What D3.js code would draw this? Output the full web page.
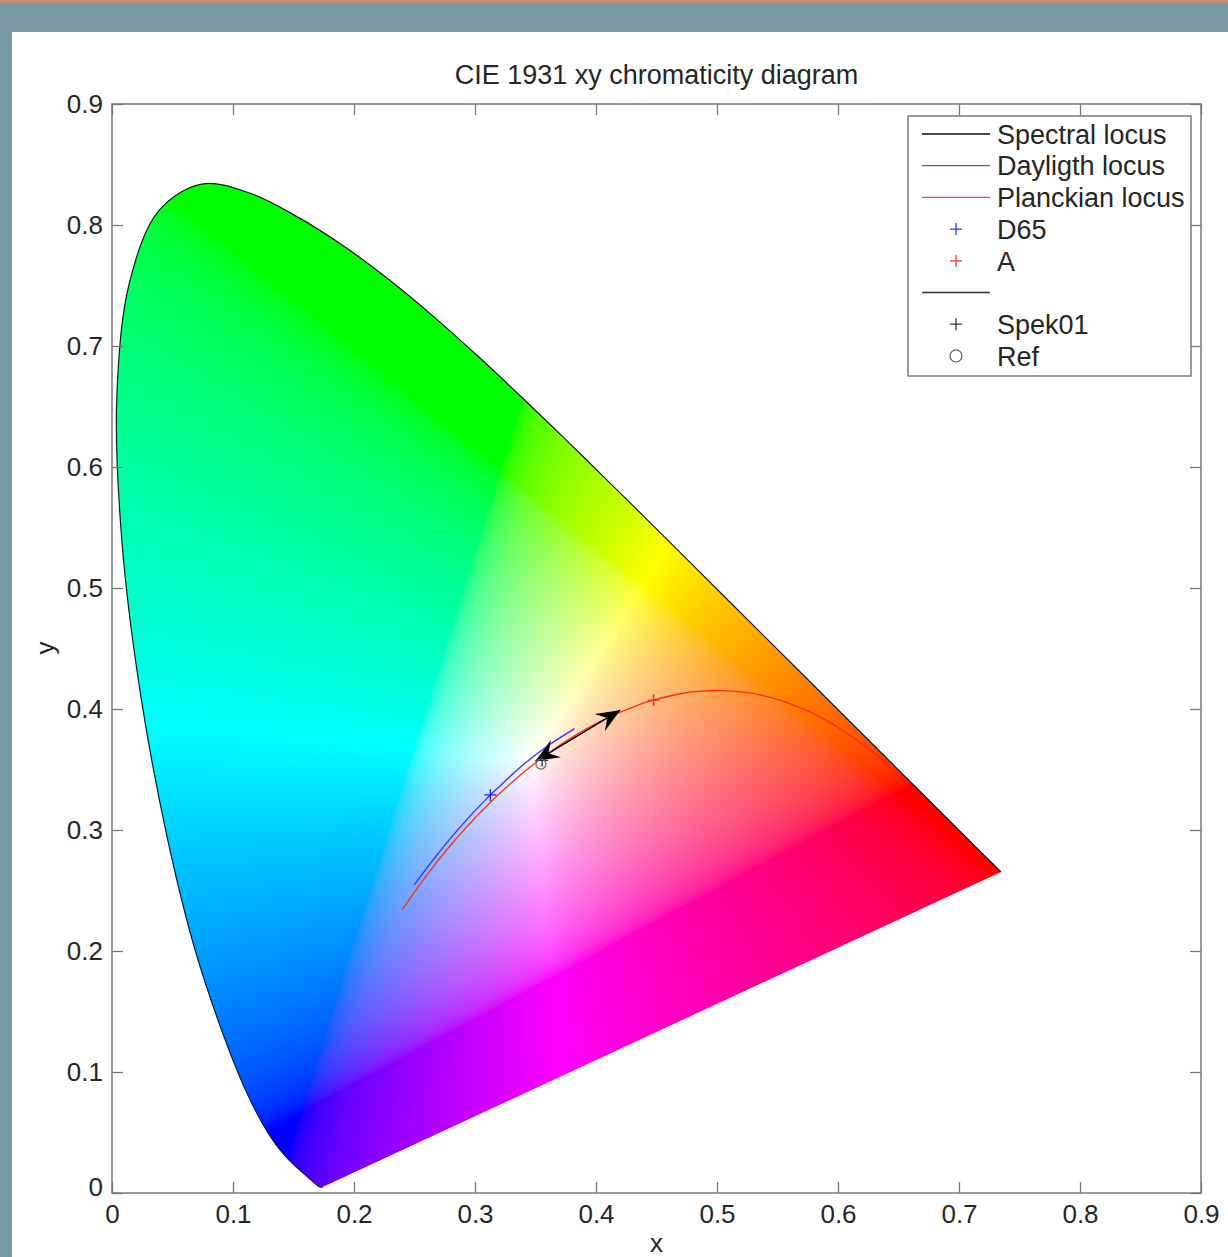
<!DOCTYPE html>
<html>
<head>
<meta charset="utf-8">
<script src="https://cdn.jsdelivr.net/npm/d3@7"></script>
<style>
  body { margin: 0; background: #7b99a5; }
  text { font-family: "Liberation Sans", Arial, sans-serif; fill: #262626; }
</style>
</head>
<body>
<div id="chart"></div>
<script>
// CIE 1931 2 degree spectral locus (x, y), 380-700 nm every 5 nm
var wavelengths = [380,385,390,395,400,405,410,415,420,425,430,435,440,445,450,455,460,465,470,475,
  480,485,490,495,500,505,510,515,520,525,530,535,540,545,550,555,560,565,570,575,580,585,590,595,
  600,605,610,615,620,625,630,635,640,645,650,655,660,665,670,675,680,685,690,695,700];
var locusX = [0.1741,0.1740,0.1738,0.1736,0.1733,0.1730,0.1726,0.1721,0.1714,0.1703,0.1689,0.1669,0.1644,0.1611,0.1566,0.1510,0.1440,0.1355,0.1241,0.1096,
  0.0913,0.0687,0.0454,0.0235,0.0082,0.0039,0.0139,0.0389,0.0743,0.1142,0.1547,0.1929,0.2296,0.2658,0.3016,0.3373,0.3731,0.4087,0.4441,0.4788,0.5125,0.5448,0.5752,0.6029,
  0.6270,0.6482,0.6658,0.6801,0.6915,0.7006,0.7079,0.7140,0.7190,0.7230,0.7260,0.7283,0.7300,0.7311,0.7320,0.7327,0.7334,0.7340,0.7344,0.7346,0.7347];
var locusY = [0.0050,0.0050,0.0049,0.0049,0.0048,0.0048,0.0048,0.0048,0.0051,0.0058,0.0069,0.0086,0.0109,0.0138,0.0177,0.0227,0.0297,0.0399,0.0578,0.0868,
  0.1327,0.2007,0.2950,0.4127,0.5384,0.6548,0.7502,0.8120,0.8338,0.8262,0.8059,0.7816,0.7543,0.7243,0.6923,0.6589,0.6245,0.5896,0.5547,0.5202,0.4866,0.4544,0.4242,0.3965,
  0.3725,0.3514,0.3340,0.3197,0.3083,0.2993,0.2920,0.2859,0.2809,0.2770,0.2740,0.2717,0.2700,0.2689,0.2680,0.2673,0.2666,0.2660,0.2656,0.2654,0.2653];

// Daylight locus, 4000 K to 25000 K
var daylightX = [0.3823,0.3621,0.3457,0.3325,0.3222,0.3127,0.3063,0.2991,0.2938,0.2788,0.2697,0.2614,0.2539,0.2499];
var daylightY = [0.3838,0.3709,0.3587,0.3476,0.3378,0.3291,0.3224,0.3150,0.3092,0.2920,0.2808,0.2702,0.2603,0.2548];

// Planckian locus, 1000 K to infinity
var planckX = [0.6528,0.6251,0.5985,0.5857,0.5732,0.5492,0.5267,0.5056,0.4862,0.4685,0.4476,0.4369,0.4053,0.3805,0.3608,
  0.3451,0.3325,0.3221,0.3135,0.3064,0.2952,0.2869,0.2807,0.2720,0.2637,0.2565,0.2501,0.2451,0.2416,0.2399];
var planckY = [0.3444,0.3674,0.3858,0.3931,0.3993,0.4082,0.4133,0.4152,0.4147,0.4124,0.4074,0.4041,0.3907,0.3768,0.3636,
  0.3516,0.3411,0.3318,0.3236,0.3165,0.3048,0.2956,0.2884,0.2779,0.2673,0.2577,0.2489,0.2418,0.2367,0.2342];

// illuminants and measured points
var illumNames = ["D65", "A"];
var illumX = [0.3127, 0.4476];
var illumY = [0.3290, 0.4074];
var spekX = [0.3555], spekY = [0.3575];
var refX = [0.3545], refY = [0.3545];
var arrowX = [0.3500, 0.4200];
var arrowY = [0.3570, 0.3990];

var tickValues = [0, 0.1, 0.2, 0.3, 0.4, 0.5, 0.6, 0.7, 0.8, 0.9];
var legendLabels = ["Spectral locus", "Dayligth locus", "Planckian locus", "D65", "A", "", "Spek01", "Ref"];

var W = 1228, H = 1257;
var margin = {top: 104, right: 27, bottom: 64, left: 112},
    width = W - margin.left - margin.right,
    height = H - margin.top - margin.bottom;

var root = d3.select("#chart").append("svg")
  .attr("width", W).attr("height", H);

// page frame
root.append("rect").attr("width", W).attr("height", H).attr("fill", "#7b99a5");
root.append("rect").attr("width", W).attr("height", 3).attr("fill", "#c98b72");
root.append("rect").attr("x", 12).attr("y", 32).attr("width", W - 12).attr("height", H - 32).attr("fill", "#fff");

var svg = root.append("g")
  .attr("transform", "translate(" + margin.left + "," + margin.top + ")");

var x = d3.scaleLinear().domain([0, 0.9]).range([0, width]);
var y = d3.scaleLinear().domain([0, 0.9]).range([height, 0]);

var locusPts = wavelengths.map(function(d, i) { return [locusX[i], locusY[i]]; });
var smooth = d3.line().x(function(d) { return x(d[0]); }).y(function(d) { return y(d[1]); })
  .curve(d3.curveCatmullRom.alpha(0.5));

// colour fill: xy -> XYZ (D50 relative) -> linear sRGB, clipped, normalised to max
var cv = document.createElement("canvas");
cv.width = width; cv.height = height;
var ctx = cv.getContext("2d");
var img = ctx.createImageData(width, height);
function gam(v) { return v <= 0.0031308 ? 12.92 * v : 1.055 * Math.pow(v, 1 / 2.4) - 0.055; }
for (var j = 0; j < height; j++) {
  var cy = Math.max(y.invert(j + 0.5), 0.002);
  for (var i = 0; i < width; i++) {
    var cx = x.invert(i + 0.5);
    var X = cx / cy, Z = (1 - cx - cy) / cy;
    var r = Math.max(0, 3.1339 * X - 1.6169 - 0.4906 * Z);
    var g = Math.max(0, -0.9788 * X + 1.9161 + 0.0335 * Z);
    var b = Math.max(0, 0.0719 * X - 0.2290 + 1.4052 * Z);
    var m = Math.max(r, g, b) || 1;
    var k = (j * width + i) * 4;
    img.data[k] = 255 * gam(r / m);
    img.data[k + 1] = 255 * gam(g / m);
    img.data[k + 2] = 255 * gam(b / m);
    img.data[k + 3] = 255;
  }
}
ctx.putImageData(img, 0, 0);

svg.append("clipPath").attr("id", "locusClip")
  .append("path").attr("d", smooth(locusPts) + "Z");

svg.append("image")
  .attr("href", cv.toDataURL())
  .attr("width", width).attr("height", height)
  .attr("clip-path", "url(#locusClip)");

// spectral locus outline
svg.append("path").attr("d", smooth(locusPts))
  .attr("fill", "none").attr("stroke", "#1a1a1a").attr("stroke-width", 1.2);

// daylight and planckian loci
svg.append("path").attr("d", smooth(daylightX.map(function(d, i) { return [d, daylightY[i]]; })))
  .attr("fill", "none").attr("stroke", "#3030ff").attr("stroke-width", 1.3);
svg.append("path").attr("d", smooth(planckX.map(function(d, i) { return [d, planckY[i]]; })))
  .attr("fill", "none").attr("stroke", "#ff2a1a").attr("stroke-width", 1.3);

function plus(sel, px, py, color, s) {
  sel.append("path")
    .attr("d", "M" + (px - s) + "," + py + "H" + (px + s) + "M" + px + "," + (py - s) + "V" + (py + s))
    .attr("stroke", color).attr("stroke-width", 1.3).attr("fill", "none");
}
var illumColors = ["#2020ff", "#ff2020"];
illumNames.forEach(function(d, i) { plus(svg, x(illumX[i]), y(illumY[i]), illumColors[i], 6); });

// double headed arrow
var defs = svg.append("defs");
defs.append("marker").attr("id", "head").attr("viewBox", "-24 -11 26 22")
  .attr("refX", 0).attr("refY", 0).attr("markerWidth", 26).attr("markerHeight", 22)
  .attr("markerUnits", "userSpaceOnUse").attr("orient", "auto-start-reverse")
  .append("path").attr("d", "M0,0 L-24,-10 L-15,0 L-24,10 Z").attr("fill", "#000");
svg.append("line")
  .attr("x1", x(arrowX[0])).attr("y1", y(arrowY[0]))
  .attr("x2", x(arrowX[1])).attr("y2", y(arrowY[1]))
  .attr("stroke", "#000").attr("stroke-width", 1.5)
  .attr("marker-start", "url(#head)").attr("marker-end", "url(#head)");

plus(svg, x(spekX[0]), y(spekY[0]), "#333", 6);
svg.append("circle").attr("cx", x(refX[0])).attr("cy", y(refY[0])).attr("r", 5)
  .attr("fill", "none").attr("stroke", "#666").attr("stroke-width", 1.2);

// axes with inward ticks on all sides
var fmt = function(d) { return d === 0 ? "0" : d3.format(".1f")(d); };
svg.append("g").attr("transform", "translate(0," + height + ")")
  .call(d3.axisBottom(x).tickValues(tickValues).tickSize(-11).tickPadding(12).tickFormat(fmt));
var ay = svg.append("g")
  .call(d3.axisLeft(y).tickValues(tickValues).tickSize(-11).tickPadding(9).tickFormat(fmt));
svg.append("g").call(d3.axisTop(x).tickValues(tickValues).tickSize(-11).tickFormat(""));
svg.append("g").attr("transform", "translate(" + width + ",0)")
  .call(d3.axisRight(y).tickValues(tickValues).tickSize(-11).tickFormat(""));
svg.selectAll(".domain").remove();
svg.selectAll(".tick line").attr("stroke", "#777").attr("stroke-width", 1.3);
svg.selectAll(".tick text").attr("font-size", 26).attr("fill", "#262626")
  .style("font-family", "'Liberation Sans', Arial, sans-serif");
ay.selectAll(".tick text").filter(function(d) { return d === 0; }).attr("dy", "0.1em");
svg.append("rect").attr("width", width).attr("height", height)
  .attr("fill", "none").attr("stroke", "#777").attr("stroke-width", 1.5);

// title and labels
svg.append("text").attr("x", width / 2).attr("y", 75 - margin.top)
  .attr("text-anchor", "middle").attr("dy", "0.35em").attr("font-size", 27)
  .text("CIE 1931 xy chromaticity diagram");
svg.append("text").attr("x", width / 2).attr("y", height + 50)
  .attr("text-anchor", "middle").attr("dy", "0.35em").attr("font-size", 26).text("x");
svg.append("text").attr("transform", "rotate(-90)")
  .attr("x", -(648 - margin.top)).attr("y", 45 - margin.left)
  .attr("text-anchor", "middle").attr("dy", "0.35em").attr("font-size", 26).text("y");

// legend
var lg = root.append("g").attr("transform", "translate(908,116)");
lg.append("rect").attr("width", 283).attr("height", 260)
  .attr("fill", "#fff").attr("stroke", "#666").attr("stroke-width", 1.3);
var legendKinds = ["line", "line", "line", "plus", "plus", "line", "plus", "circle"];
var legendColors = ["#111", "#5050ff", "#ff4040", "#3030ff", "#ff3030", "#333", "#333", "#666"];
legendLabels.forEach(function(label, i) {
  var ly = 18 + i * 31.7;
  if (legendKinds[i] === "line") {
    lg.append("line").attr("x1", 14).attr("x2", 82).attr("y1", ly).attr("y2", ly)
      .attr("stroke", legendColors[i]).attr("stroke-width", 1.3);
  } else if (legendKinds[i] === "plus") {
    plus(lg, 48, ly, legendColors[i], 6);
  } else {
    lg.append("circle").attr("cx", 48).attr("cy", ly).attr("r", 6)
      .attr("fill", "none").attr("stroke", legendColors[i]).attr("stroke-width", 1.3);
  }
  lg.append("text").attr("x", 89).attr("y", ly).attr("dy", "0.36em")
    .attr("font-size", 27).text(label);
});
</script>
</body>
</html>
